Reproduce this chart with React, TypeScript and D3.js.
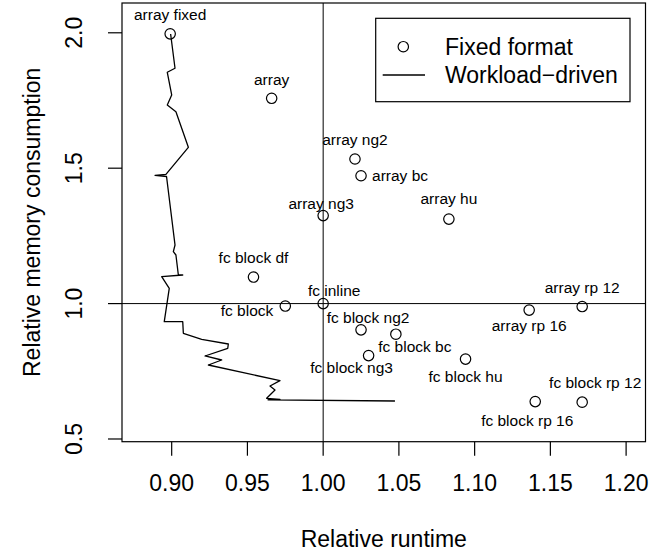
import React from "react";
import * as d3 from "d3";

const pointNames = [
  "array fixed", "array", "array ng2", "array bc", "array ng3", "array hu",
  "fc block df", "fc block", "fc inline", "fc block ng2", "fc block bc",
  "fc block ng3", "fc block hu", "array rp 16", "array rp 12",
  "fc block rp 16", "fc block rp 12",
];
const pointRuntime = [
  0.899, 0.966, 1.021, 1.025, 1.0, 1.083,
  0.954, 0.975, 1.0, 1.025, 1.048,
  1.030, 1.094, 1.136, 1.171,
  1.140, 1.171,
];
const pointMemory = [
  1.996, 1.758, 1.534, 1.472, 1.325, 1.312,
  1.098, 0.991, 1.0, 0.903, 0.887,
  0.808, 0.795, 0.976, 0.989,
  0.638, 0.636,
];

const workloadRuntime = [
  0.8993, 0.9022, 0.8971, 0.9, 0.8971, 0.9028, 0.911, 0.8962, 0.889, 0.8966,
  0.9022, 0.9011, 0.9028, 0.9044, 0.9073, 0.8934, 0.8984, 0.8951, 0.9073,
  0.9077, 0.9198, 0.9374, 0.937, 0.922, 0.933, 0.9242, 0.9715, 0.9649,
  0.9682, 0.9627, 0.9715, 0.9636, 1.0474,
];
const workloadMemory = [
  1.9955, 1.8689, 1.8541, 1.7703, 1.7334, 1.7086, 1.5771, 1.4774, 1.4737,
  1.4693, 1.2164, 1.1916, 1.1794, 1.1056, 1.1056, 1.0993, 1.0565, 0.9331,
  0.9331, 0.8903, 0.8681, 0.8508, 0.8349, 0.8065, 0.7917, 0.7732, 0.7153,
  0.6957, 0.6809, 0.6503, 0.6459, 0.6448, 0.6403,
];

const xTicks = [0.9, 0.95, 1.0, 1.05, 1.1, 1.15, 1.2];
const yTicks = [0.5, 1.0, 1.5, 2.0];
const legendLabels = ["Fixed format", "Workload\u2212driven"];

// label placement (layout): [dx, dy(baseline), anchor]
const labelLayout: [number, number, string][] = [
  [0, -13.5, "middle"], [0, -13.5, "middle"], [0, -13.5, "middle"],
  [11, 5, "start"], [-2, -7, "middle"], [0, -15, "middle"],
  [0, -14, "middle"], [-12, 10, "end"], [11, -8, "middle"],
  [7, -7, "middle"], [19, 18, "middle"], [-17, 17.5, "middle"],
  [0, 22.5, "middle"], [0, 21, "middle"], [0, -13.5, "middle"],
  [-8, 24.5, "middle"], [13, -14, "middle"],
];

const W = 668;
const H = 553;
const L = 122, R = 645.5, T = 3, B = 441.7;
const FONT = "'Liberation Sans', Arial, Helvetica, sans-serif";

export default function App() {
  const x = d3.scaleLinear().domain([0.8672, 1.2128]).range([L, R]);
  const y = d3.scaleLinear().domain([0.49, 2.11]).range([B, T]);
  const line = d3
    .line<number>()
    .x((_, i) => x(workloadRuntime[i]))
    .y((_, i) => y(workloadMemory[i]));
  const linePath = line(workloadRuntime) || "";

  return (
    <svg
      width={W}
      height={H}
      style={{ position: "absolute", left: 0, top: 0, background: "#fff" }}
      fontFamily={FONT}
    >
      <rect x={0} y={0} width={W} height={H} fill="#fff" />
      <defs>
        <clipPath id="plotclip">
          <rect x={L} y={T} width={R - L} height={B - T} />
        </clipPath>
      </defs>
      {/* reference lines */}
      <g clipPath="url(#plotclip)" stroke="#000" strokeWidth={1}>
        <line x1={x(1.0)} x2={x(1.0)} y1={T} y2={B} />
        <line x1={L} x2={R} y1={y(1.0)} y2={y(1.0)} />
      </g>
      {/* workload line */}
      <path d={linePath} fill="none" stroke="#000" strokeWidth={1.3} strokeLinejoin="round" />
      {/* points */}
      {pointNames.map((n, i) => (
        <circle
          key={n}
          cx={x(pointRuntime[i])}
          cy={y(pointMemory[i])}
          r={5.2}
          fill="none"
          stroke="#000"
          strokeWidth={1.2}
        />
      ))}
      {pointNames.map((n, i) => {
        const [dx, dy, anchor] = labelLayout[i];
        return (
          <text
            key={"l" + n}
            x={x(pointRuntime[i]) + dx}
            y={y(pointMemory[i]) + dy}
            textAnchor={anchor as any}
            fontSize={15.5}
            fill="#000"
          >
            {n}
          </text>
        );
      })}
      {/* box */}
      <rect x={L} y={T} width={R - L} height={B - T} fill="none" stroke="#000" strokeWidth={1.2} />
      {/* x axis */}
      <g>
        {xTicks.map((t) => (
          <g key={"x" + t}>
            <line x1={x(t)} x2={x(t)} y1={B} y2={B + 14} stroke="#000" strokeWidth={1.2} />
            <text x={x(t)} y={491} textAnchor="middle" fontSize={23} fill="#000">
              {t.toFixed(2)}
            </text>
          </g>
        ))}
        <text x={(L + R) / 2} y={547} textAnchor="middle" fontSize={23} fill="#000">
          Relative runtime
        </text>
      </g>
      {/* y axis */}
      <g>
        {yTicks.map((t) => (
          <g key={"y" + t}>
            <line x1={L - 14} x2={L} y1={y(t)} y2={y(t)} stroke="#000" strokeWidth={1.2} />
            <text
              transform={`translate(82,${y(t)}) rotate(-90)`}
              textAnchor="middle"
              fontSize={23}
              fill="#000"
            >
              {t.toFixed(1)}
            </text>
          </g>
        ))}
        <text
          transform={`translate(40,${(T + B) / 2}) rotate(-90)`}
          textAnchor="middle"
          fontSize={23}
          fill="#000"
        >
          Relative memory consumption
        </text>
      </g>
      {/* legend */}
      <g>
        <rect x={375.7} y={18.3} width={254.3} height={83.4} fill="#fff" stroke="#000" strokeWidth={1.2} />
        <circle cx={403.3} cy={46.7} r={5.2} fill="none" stroke="#000" strokeWidth={1.2} />
        <line x1={382.7} x2={425} y1={75} y2={75} stroke="#000" strokeWidth={1.3} />
        <text x={445} y={55} fontSize={23} fill="#000">{legendLabels[0]}</text>
        <text x={445} y={83} fontSize={23} fill="#000">{legendLabels[1]}</text>
      </g>
    </svg>
  );
}
